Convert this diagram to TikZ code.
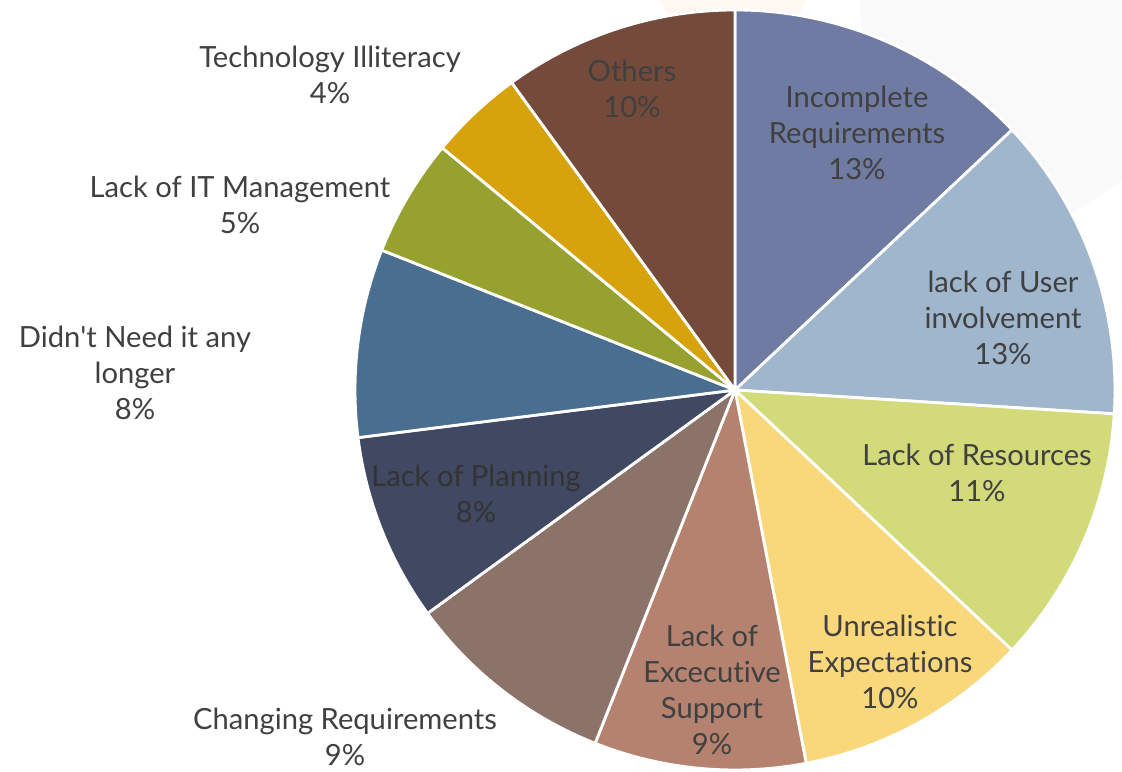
\documentclass[tikz,border=0pt]{standalone}
\usepackage{fontspec}
\setmainfont{Lato}[Ligatures={NoCommon}]
\usetikzlibrary{positioning}
\definecolor{incomplete}{HTML}{6F7BA2}
\definecolor{userinv}{HTML}{A0B6CC}
\definecolor{resources}{HTML}{D2DA7A}
\definecolor{unrealistic}{HTML}{F9D87C}
\definecolor{execsup}{HTML}{B5826F}
\definecolor{changing}{HTML}{8C7369}
\definecolor{planning}{HTML}{404862}
\definecolor{neednot}{HTML}{4A6E90}
\definecolor{itmgmt}{HTML}{97A130}
\definecolor{techill}{HTML}{D6A30C}
\definecolor{others}{HTML}{744A3B}
\definecolor{txt}{HTML}{404040}
\tikzset{
    lbl/.style={align=center, text=txt, font=\fontsize{16.6}{20.5}\selectfont, inner sep=0pt},
    slice/.style={draw=white, line width=1.6pt, line join=round}
}

\begin{document}
\begin{tikzpicture}[x=0.02cm, y=0.02cm]
            \useasboundingbox (0,0) rectangle (1122,771);
            % faint slide background
            \fill[gray!5] (1122,771) -- (860,771) arc[start angle=180, end angle=235, radius=320] -- (1122,590) -- cycle;
            \fill[orange!6] (660,771) -- (675,745) -- (795,745) -- (805,771) -- cycle;
            \coordinate (c) at (735,381);
            % slices, clockwise from the top
            \foreach \from/\to/\col in {90/43.2/incomplete, 43.2/-3.6/userinv, -3.6/-43.2/resources,
                -43.2/-79.2/unrealistic, -79.2/-111.6/execsup, -111.6/-144/changing, -144/-172.8/planning,
                -172.8/-201.6/neednot, -201.6/-219.6/itmgmt, -219.6/-234/techill, -234/-270/others}
                \filldraw[slice, fill=\col] (c) -- ++(\from:380) arc[start angle=\from, end angle=\to, radius=380] -- cycle;
            % labels
            \node[lbl] (incl) at (857,638) {Incomplete\\Requirements\\13\%};
            \node[lbl] (userl) at (1003,453) {lack of User\\involvement\\13\%};
            \node[lbl] (resl) at (977,298) {Lack of Resources\\11\%};
            \node[lbl] (unrl) at (890,109) {Unrealistic\\Expectations\\10\%};
            \node[lbl] (execl) at (712,81) {Lack of\\Excecutive\\Support\\9\%};
            \node[lbl] (chgl) at (345,34) {Changing Requirements\\9\%};
            \node[lbl, text=txt!80!black] (planl) at (476,277) {Lack of Planning\\8\%};
            \node[lbl] (needl) at (135,398) {Didn\textquotesingle t Need it any\\longer\\8\%};
            \node[lbl] (itl) at (240,566) {Lack of IT Management\\5\%};
            \node[lbl] (techl) at (330,696) {Technology Illiteracy\\4\%};
            \node[lbl] (othl) at (632,682) {Others\\10\%};
        \end{tikzpicture}
\end{document}
